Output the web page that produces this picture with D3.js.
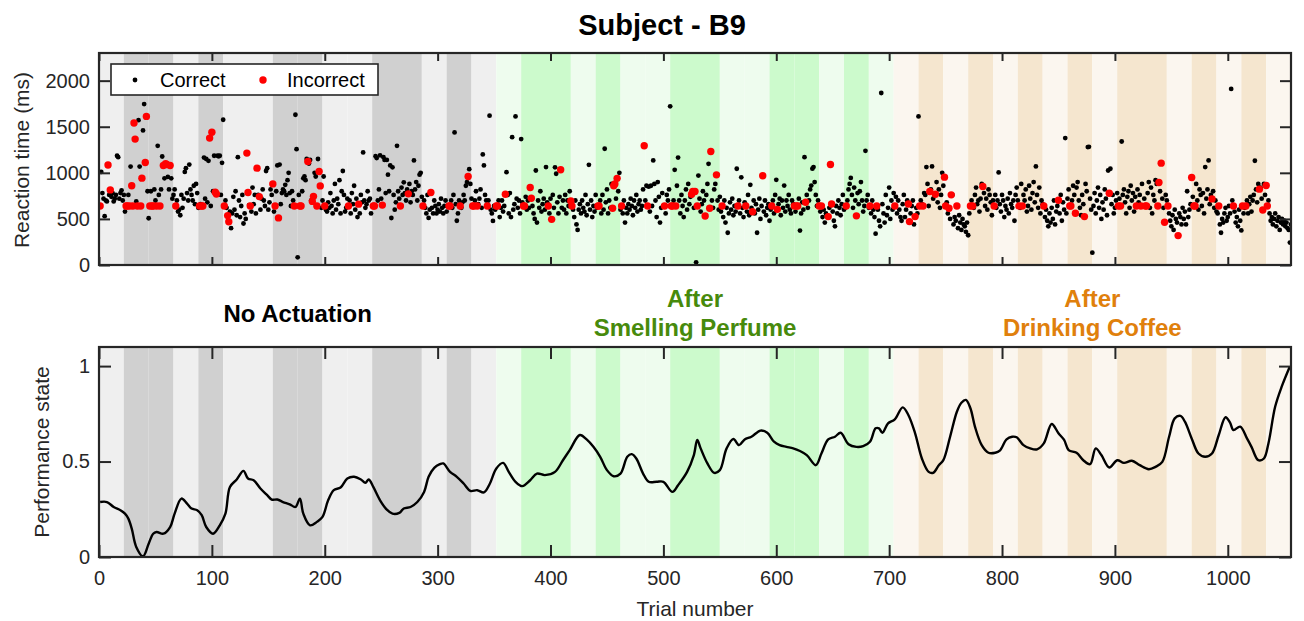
<!DOCTYPE html>
<html>
<head>
<meta charset="utf-8">
<script src="https://cdn.jsdelivr.net/npm/d3@7"></script>
<style>
  body { margin: 0; background: #fff; }
  text { font-family: "Liberation Sans", Arial, Helvetica, sans-serif; }
</style>
</head>
<body>
<svg id="chart" width="1304" height="621"></svg>
<script>
// ---- data ----
var blockSize = 22;   // trials per block
// 0 = light block, 1 = dark block (48 blocks of 22 trials)
var blockShade = [
  0,1,1,0,1,0,0,1,1,0,0,1,1,0,1,0,
  0,1,1,0,1,0,0,1,1,0,0,1,1,0,1,0,
  0,1,0,1,0,1,0,1,0,1,1,0,1,0,1,0
];
var phaseLabels = [["No Actuation"], ["After", "Smelling Perfume"], ["After", "Drinking Coffee"]];
var phaseCenters = [176, 528, 880];  // trial at label centre

// reaction time (ms) for trial 1..1056
var rtMs = [
  640,1010,780,720,530,700,690,1085,760,815,740,780,690,720,760,1185,1170,720,780,810,700,760,
  580,640,640,760,640,1068,860,640,1540,1366,690,640,1571,1068,640,942,1460,1746,1112,1612,800,507,
  640,800,640,640,820,700,640,1293,760,640,820,1177,1080,940,1100,1090,955,820,1080,940,720,760,
  820,640,700,580,600,540,760,620,720,1010,1050,780,700,1090,820,760,700,860,660,880,780,620,
  640,660,640,640,1165,720,1150,680,1130,1377,640,1440,800,1185,790,770,1185,1180,1185,760,1108,1576,
  640,700,620,536,470,580,399,560,740,600,800,540,1170,700,520,640,760,450,560,500,1214,786,
  650,640,580,840,660,760,560,1051,760,742,600,720,820,700,640,1020,1050,600,680,820,760,880,
  580,640,800,1080,511,1090,660,780,820,800,870,760,920,1000,780,640,800,700,640,1630,1257,83,
  760,640,640,800,940,960,920,1150,1123,1100,1140,700,690,745,1000,960,640,1150,1014,858,620,700,
  960,640,600,580,680,620,780,640,560,700,880,600,720,660,920,560,800,1020,760,580,620,720,
  640,700,560,780,660,860,600,720,520,660,560,760,680,1221,700,620,660,800,700,720,560,640,
  640,640,1180,1160,700,820,1190,720,650,1170,1140,780,1140,980,800,1080,510,1060,760,600,680,1293,
  800,720,640,840,760,897,780,700,820,772,880,680,800,760,1134,820,900,700,860,980,1000,740,
  640,700,620,560,760,511,600,786,620,560,700,640,560,600,660,580,720,620,560,640,700,580,
  640,640,640,700,620,760,1438,660,480,560,700,640,620,680,760,700,860,900,960,1040,880,720,
  640,640,700,800,640,660,720,820,620,1200,1080,760,700,640,700,1620,600,560,478,640,600,640,
  640,700,520,620,700,580,640,768,1007,760,560,780,520,1387,600,660,1612,720,620,700,560,1366,
  680,640,640,740,600,700,620,840,724,640,560,500,1025,460,700,620,800,580,660,720,600,1062,
  680,640,560,720,495,760,620,1060,990,680,560,740,1033,620,700,600,760,560,700,640,800,695,
  640,600,520,700,440,380,600,660,560,700,620,580,760,540,660,1087,600,700,520,640,580,760,
  620,640,640,700,560,760,600,1261,680,820,560,700,620,880,616,860,880,720,940,800,1000,600,
  640,560,700,460,620,560,660,600,720,640,540,700,620,760,580,660,700,600,640,820,1293,700,
  860,640,850,580,860,640,1134,880,700,520,900,740,460,620,780,640,640,560,760,700,820,1721,
  640,640,700,1033,640,860,1166,700,560,760,640,520,700,820,600,880,660,740,768,797,620,797,
  29,640,970,720,580,660,800,700,531,760,880,1098,616,1232,700,620,820,880,978,700,600,740,
  580,640,520,700,460,620,350,560,680,600,720,540,640,580,1044,640,700,560,951,620,520,680,
  640,580,760,540,870,620,577,700,560,660,350,600,720,500,640,968,580,700,540,620,660,480,
  600,640,700,560,760,924,604,660,720,540,700,620,862,580,700,640,760,600,560,700,660,640,
  580,640,640,720,373,560,680,600,1170,680,760,620,700,820,862,1045,1062,900,760,640,700,640,
  580,640,520,600,460,560,540,525,620,1091,662,580,480,420,640,560,700,620,540,660,760,600,
  620,640,700,820,880,945,760,620,840,700,533,780,660,800,900,700,580,640,1239,700,760,620,
  640,560,700,600,520,340,640,600,480,420,1866,660,560,460,760,540,620,840,500,700,600,780,
  640,740,560,700,600,520,480,660,760,520,600,700,662,471,560,640,700,440,525,620,560,1612,
  640,700,660,640,780,760,1062,880,640,797,820,1069,720,760,768,900,680,820,620,760,1000,860,
  953,640,680,560,616,500,761,760,440,520,480,640,400,540,460,380,500,440,420,360,460,323,
  560,640,700,640,620,760,840,660,700,580,720,880,852,780,640,720,600,820,760,680,540,700,
  640,760,620,700,1004,660,580,760,700,520,640,600,720,560,780,660,620,700,480,760,840,700,
  640,620,880,640,760,700,820,580,640,860,720,600,780,900,680,1069,760,620,840,560,700,660,
  640,520,600,480,420,560,460,620,500,700,440,580,640,703,560,760,480,680,600,1377,560,720,
  820,640,640,700,860,760,561,840,900,700,620,540,760,660,525,880,800,1279,1282,720,600,134,
  640,780,560,700,840,620,760,500,680,600,820,720,540,1025,779,1044,660,760,560,620,700,780,
  640,720,640,1340,760,820,680,560,740,800,620,860,700,780,580,740,640,820,680,760,640,880,
  640,720,640,640,780,900,620,840,560,760,700,920,880,640,895,800,1105,720,620,464,760,700,
  640,560,480,420,540,380,600,500,460,319,560,520,440,620,500,580,440,800,520,600,660,950,
  740,640,640,880,700,600,820,760,640,780,560,1062,720,820,1134,660,760,717,800,620,700,580,
  560,640,440,350,500,460,560,620,480,520,640,560,1910,700,640,580,460,520,420,600,480,375,
  640,560,620,640,700,560,660,740,580,700,760,1131,820,680,880,823,840,720,597,880,760,862,
  640,700,560,480,520,440,500,560,420,480,520,380,460,500,440,480,420,460,400,380,243,440
];

// trials answered incorrectly
var errTrials = [
  1,8,10,24,25,27,29,30,31,32,34,37,38,41,42,45,47,48,51,54,57,59,60,63,68,
  89,91,92,98,100,103,104,111,114,115,131,132,134,140,142,154,156,159,173,
  178,179,185,189,190,193,195,196,200,221,230,243,244,251,267,274,287,294,
  310,311,320,327,331,332,335,344,352,353,360,376,377,382,383,398,401,409,418,419,
  442,443,455,456,457,459,463,483,486,501,507,508,511,525,526,528,530,537,541,542,547,
  552,566,573,579,588,596,601,616,618,619,626,638,640,646,648,649,662,671,683,689,
  705,717,718,723,727,730,736,741,749,750,753,755,760,772,774,783,793,815,818,837,850,
  860,861,865,873,895,903,905,919,923,927,928,938,939,941,944,947,956,968,970,971,986,
  992,1005,1013,1016,1028,1031,1034,1035
];

// performance state curve
var perfTrial = [
  1,7,13,19,23,26,29,33,39,44,48,51,57,63,67,73,78,82,87,91,95,101,107,112,116,122,128,132,137,143,
  149,153,158,163,169,174,178,181,187,193,198,203,208,214,220,226,232,236,239,243,249,255,260,266,
  270,276,282,288,292,297,302,305,311,317,323,329,335,341,346,352,358,363,369,375,382,388,395,404,
  411,417,426,432,438,444,450,456,462,468,472,476,482,487,494,500,508,513,521,527,530,533,539,545,
  550,556,562,567,572,578,586,592,598,603,609,615,621,627,635,640,646,652,657,664,671,677,683,688,
  691,694,699,705,712,717,723,729,735,739,744,748,754,760,764,768,772,776,782,788,794,798,804,809,
  813,819,825,831,837,844,850,855,859,866,872,878,883,888,895,902,908,915,922,930,936,942,948,953,
  958,962,968,974,980,986,992,998,1002,1005,1011,1017,1021,1027,1032,1036,1042,1048,1055
];
var perfValue = [
  0.288,0.288,0.262,0.245,0.227,0.201,0.149,0.053,0.004,0.070,0.122,0.131,0.122,0.157,0.227,0.306,0.280,0.254,0.245,0.219,
  0.157,0.122,0.166,0.227,0.367,0.406,0.451,0.411,0.402,0.359,0.324,0.301,0.301,0.288,0.276,0.262,0.306,0.227,0.166,0.184,
  0.210,0.297,0.350,0.364,0.411,0.420,0.406,0.389,0.406,0.367,0.297,0.248,0.227,0.231,0.254,0.262,0.288,0.341,0.420,0.467,
  0.486,0.490,0.446,0.420,0.385,0.346,0.350,0.338,0.381,0.464,0.493,0.446,0.394,0.371,0.402,0.437,0.429,0.446,0.507,0.560,
  0.639,0.616,0.577,0.525,0.455,0.423,0.437,0.525,0.539,0.516,0.437,0.394,0.394,0.394,0.341,0.376,0.446,0.534,0.613,0.569,
  0.490,0.441,0.455,0.569,0.618,0.586,0.616,0.630,0.662,0.651,0.604,0.586,0.577,0.569,0.555,0.534,0.481,0.542,0.616,0.630,
  0.651,0.591,0.577,0.581,0.604,0.674,0.674,0.651,0.700,0.721,0.784,0.744,0.648,0.516,0.446,0.441,0.481,0.507,0.630,0.761,
  0.808,0.823,0.779,0.683,0.586,0.546,0.546,0.557,0.616,0.630,0.627,0.586,0.569,0.564,0.595,0.697,0.648,0.613,0.560,0.546,
  0.507,0.486,0.569,0.534,0.469,0.507,0.493,0.504,0.481,0.460,0.472,0.498,0.630,0.726,0.739,0.709,0.621,0.542,0.525,0.542,
  0.639,0.732,0.704,0.665,0.683,0.621,0.577,0.507,0.516,0.595,0.788,0.896,0.998
];

// tick values
var trialTicks = [0,100,200,300,400,500,600,700,800,900,1000];
var rtTicks = [0,500,1000,1500,2000];
var perfTicks = [0,0.5,1];

// ---- styles / layout ----
var nTrials = blockShade.length * blockSize;
var axisColor = "#262626";
var bandColors = [["#efefef", "#d0d0d0"], ["#eefcee", "#ccfacc"], ["#fbf6ef", "#f5e6cf"]];
var phaseTextColors = ["#000000", "#478a0c", "#e0800c"];
var plotLeft = 99, plotRight = 1291;
var topPanel = { top: 53, bottom: 265 };
var botPanel = { top: 347, bottom: 557 };

var svg = d3.select("#chart");

var x = d3.scaleLinear().domain([0, nTrials]).range([plotLeft, plotRight]);
var yRt = d3.scaleLinear().domain([0, 2300]).range([topPanel.bottom, topPanel.top]);
var yPerf = d3.scaleLinear().domain([0, 1.1]).range([botPanel.bottom, botPanel.top]);

var errSet = new Set(errTrials);
var trials = rtMs.map(function(v, i) {
  return { trial: i + 1, rt: v, err: errSet.has(i + 1) };
});

function drawBands(g, panel) {
  g.selectAll("rect.band")
    .data(blockShade)
    .enter()
    .append("rect")
    .attr("class", "band")
    .attr("x", function(d, i) { return x(i * blockSize); })
    .attr("width", function(d, i) { return x((i + 1) * blockSize) - x(i * blockSize); })
    .attr("y", panel.top)
    .attr("height", panel.bottom - panel.top)
    .attr("fill", function(d, i) { return bandColors[Math.floor(i / 16)][d]; });
}

function drawFrame(g, panel, y, yTicks, yTickLen, xTickLen, xLabels) {
  var yLeft = g.append("g")
    .attr("transform", "translate(" + plotLeft + ",0)")
    .call(d3.axisLeft(y).tickValues(yTicks).tickSize(-yTickLen).tickSizeOuter(0).tickPadding(9)
      .tickFormat(function(d) { return d; }));
  var yRight = g.append("g")
    .attr("transform", "translate(" + plotRight + ",0)")
    .call(d3.axisRight(y).tickValues(yTicks).tickSize(-yTickLen).tickSizeOuter(0).tickFormat(""));
  var xTop = g.append("g")
    .attr("transform", "translate(0," + panel.top + ")")
    .call(d3.axisTop(x).tickValues(trialTicks).tickSize(-xTickLen).tickSizeOuter(0).tickFormat(""));
  var xBot = g.append("g")
    .attr("transform", "translate(0," + panel.bottom + ")")
    .call(d3.axisBottom(x).tickValues(trialTicks).tickSize(-xTickLen).tickSizeOuter(0).tickPadding(14)
      .tickFormat(xLabels ? function(d) { return d; } : ""));

  [yLeft, yRight, xTop, xBot].forEach(function(a) {
    a.select(".domain").remove();
    a.selectAll(".tick line").attr("stroke", axisColor).attr("stroke-width", 2);
    a.selectAll("text").attr("fill", axisColor).style("font-size", "20px")
      .style("font-family", '"Liberation Sans", Arial, sans-serif');
  });

  g.append("rect")
    .attr("x", plotLeft).attr("y", panel.top)
    .attr("width", plotRight - plotLeft).attr("height", panel.bottom - panel.top)
    .attr("fill", "none").attr("stroke", axisColor).attr("stroke-width", 2.2);
}

// clip paths
var defs = svg.append("defs");
[["clipTop", topPanel], ["clipBot", botPanel]].forEach(function(c) {
  defs.append("clipPath").attr("id", c[0])
    .append("rect").attr("x", plotLeft).attr("y", c[1].top)
    .attr("width", plotRight - plotLeft).attr("height", c[1].bottom - c[1].top);
});

// ---- top panel: reaction times ----
var gTop = svg.append("g");
drawBands(gTop, topPanel);

var pts = gTop.append("g").attr("clip-path", "url(#clipTop)");
pts.selectAll("circle.ok")
  .data(trials.filter(function(d) { return !d.err; }))
  .enter()
  .append("circle")
  .attr("class", "ok")
  .attr("cx", function(d) { return x(d.trial); })
  .attr("cy", function(d) { return yRt(d.rt); })
  .attr("r", 2.4)
  .attr("fill", "#000");
pts.selectAll("circle.bad")
  .data(trials.filter(function(d) { return d.err; }))
  .enter()
  .append("circle")
  .attr("class", "bad")
  .attr("cx", function(d) { return x(d.trial); })
  .attr("cy", function(d) { return yRt(d.rt); })
  .attr("r", 3.7)
  .attr("fill", "#ff0000");

drawFrame(gTop, topPanel, yRt, rtTicks, 11, 8, false);

// legend
var leg = gTop.append("g");
leg.append("rect")
  .attr("x", 111).attr("y", 64).attr("width", 267).attr("height", 31)
  .attr("fill", "#fff").attr("stroke", axisColor).attr("stroke-width", 1.6);
leg.append("circle").attr("cx", 135).attr("cy", 80).attr("r", 2.4).attr("fill", "#000");
leg.append("text").attr("x", 160).attr("y", 87).text("Correct")
  .style("font-size", "20px").attr("fill", "#000");
leg.append("circle").attr("cx", 263).attr("cy", 80).attr("r", 3.7).attr("fill", "#ff0000");
leg.append("text").attr("x", 287).attr("y", 87).text("Incorrect")
  .style("font-size", "20px").attr("fill", "#000");

// ---- bottom panel: performance state ----
var gBot = svg.append("g");
drawBands(gBot, botPanel);

var perfLine = d3.line()
  .x(function(d, i) { return x(perfTrial[i]); })
  .y(function(d) { return yPerf(d); })
  .curve(d3.curveCatmullRom.alpha(0.5));

gBot.append("path")
  .datum(perfValue)
  .attr("clip-path", "url(#clipBot)")
  .attr("d", perfLine)
  .attr("fill", "none")
  .attr("stroke", "#000")
  .attr("stroke-width", 2.4)
  .attr("stroke-linejoin", "round");

drawFrame(gBot, botPanel, yPerf, perfTicks, 12, 12, true);

// ---- texts ----
svg.append("text")
  .attr("x", 662).attr("y", 35)
  .attr("text-anchor", "middle")
  .style("font-size", "29px").style("font-weight", "bold")
  .text("Subject - B9");

phaseLabels.forEach(function(lines, p) {
  var t = svg.append("text")
    .attr("text-anchor", "middle")
    .attr("fill", phaseTextColors[p])
    .style("font-size", "24px").style("font-weight", "bold");
  var base = lines.length === 1 ? 322 : 307;
  lines.forEach(function(s, k) {
    t.append("tspan").attr("x", x(phaseCenters[p])).attr("y", base + k * 29).text(s);
  });
});

svg.append("text")
  .attr("transform", "translate(29,160) rotate(-90)")
  .attr("text-anchor", "middle")
  .attr("fill", axisColor)
  .style("font-size", "21px")
  .text("Reaction time (ms)");

svg.append("text")
  .attr("transform", "translate(49,452) rotate(-90)")
  .attr("text-anchor", "middle")
  .attr("fill", axisColor)
  .style("font-size", "21px")
  .text("Performance state");

svg.append("text")
  .attr("x", 695).attr("y", 616)
  .attr("text-anchor", "middle")
  .attr("fill", axisColor)
  .style("font-size", "21px")
  .text("Trial number");
</script>
</body>
</html>
